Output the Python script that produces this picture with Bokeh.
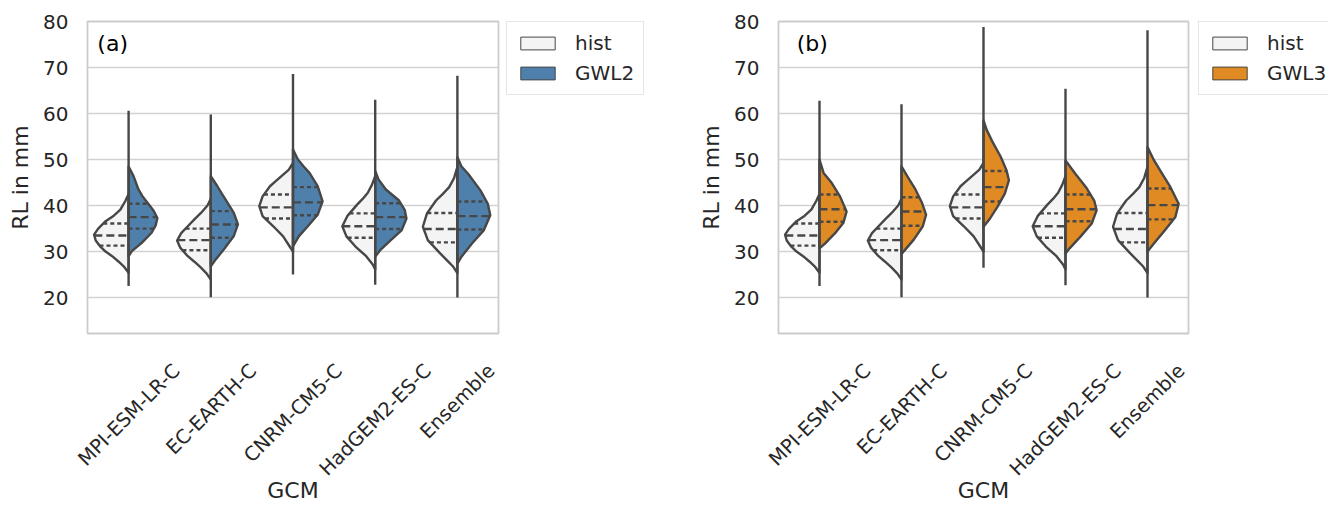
import math
import numpy as np
from bokeh.plotting import figure
from bokeh.layouts import row
from bokeh.models import Range1d, FixedTicker, Label, Legend, LegendItem
from bokeh.embed import file_html
from bokeh.resources import INLINE

# ---------------- data ----------------
gcms = ["MPI-ESM-LR-C", "EC-EARTH-C", "CNRM-CM5-C", "HadGEM2-ES-C", "Ensemble"]
y_ticks = [20, 30, 40, 50, 60, 70, 80]

# violin outlines: RL levels (mm) and kde half-width (category units)
hist_MPI_lvl = [42.5, 41.0, 39.1, 37.8, 36.6, 35.0, 33.7, 32.4, 31.2, 30.0, 29.0, 27.8, 26.8, 25.4]
hist_MPI_kde = [0.0, 0.04, 0.10, 0.18, 0.28, 0.37, 0.42, 0.40, 0.35, 0.28, 0.20, 0.12, 0.06, 0.0]
hist_EC_lvl = [41.5, 40.0, 38.4, 37.0, 35.5, 34.0, 32.4, 30.8, 29.0, 27.8, 26.5, 25.2, 23.9]
hist_EC_kde = [0.0, 0.04, 0.12, 0.20, 0.28, 0.36, 0.41, 0.37, 0.28, 0.20, 0.12, 0.05, 0.0]
hist_CNRM_lvl = [49.3, 47.8, 46.4, 45.3, 44.2, 42.0, 39.9, 37.7, 35.5, 33.3, 31.1, 30.0]
hist_CNRM_kde = [0.0, 0.05, 0.14, 0.21, 0.28, 0.37, 0.41, 0.37, 0.24, 0.12, 0.04, 0.0]
hist_Had_lvl = [46.4, 44.5, 42.8, 41.5, 40.2, 37.7, 35.5, 33.3, 31.1, 29.0, 27.2, 26.1]
hist_Had_kde = [0.0, 0.04, 0.09, 0.15, 0.22, 0.34, 0.40, 0.35, 0.24, 0.11, 0.03, 0.0]
hist_Ens_lvl = [48.4, 46.0, 44.0, 42.5, 41.1, 38.3, 35.4, 32.5, 29.6, 28.0, 26.7, 25.3]
hist_Ens_kde = [0.0, 0.04, 0.10, 0.18, 0.26, 0.37, 0.42, 0.36, 0.21, 0.12, 0.05, 0.0]

gwl2_MPI_lvl = [48.5, 46.4, 43.5, 42.0, 40.6, 39.0, 37.3, 35.7, 34.1, 31.9, 30.1, 29.0]
gwl2_MPI_kde = [0.0, 0.06, 0.12, 0.17, 0.23, 0.30, 0.35, 0.33, 0.28, 0.16, 0.04, 0.0]
gwl2_EC_lvl = [46.4, 44.2, 42.7, 41.3, 38.4, 35.9, 33.4, 30.5, 28.3, 26.8]
gwl2_EC_kde = [0.0, 0.08, 0.13, 0.18, 0.28, 0.33, 0.28, 0.16, 0.06, 0.0]
gwl2_CNRM_lvl = [52.2, 50.0, 48.5, 47.1, 44.2, 40.9, 38.0, 35.5, 33.3, 31.1]
gwl2_CNRM_kde = [0.0, 0.06, 0.13, 0.20, 0.30, 0.36, 0.30, 0.18, 0.07, 0.0]
gwl2_Had_lvl = [47.5, 45.7, 43.5, 41.1, 39.0, 37.2, 34.6, 32.5, 30.3, 28.9]
gwl2_Had_kde = [0.0, 0.04, 0.13, 0.29, 0.36, 0.38, 0.32, 0.19, 0.06, 0.0]
gwl2_Ens_lvl = [50.5, 48.5, 46.9, 43.3, 40.4, 37.9, 34.6, 31.8, 28.9, 27.4]
gwl2_Ens_kde = [0.0, 0.05, 0.13, 0.28, 0.37, 0.40, 0.32, 0.18, 0.05, 0.0]

gwl3_MPI_lvl = [50.0, 47.1, 44.9, 42.0, 38.7, 36.2, 34.0, 31.8, 30.7]
gwl3_MPI_kde = [0.0, 0.05, 0.15, 0.25, 0.33, 0.29, 0.19, 0.07, 0.0]
gwl3_EC_lvl = [48.5, 46.4, 43.5, 40.6, 38.0, 35.5, 32.6, 30.1, 29.4]
gwl3_EC_kde = [0.0, 0.07, 0.17, 0.25, 0.30, 0.26, 0.15, 0.03, 0.0]
gwl3_CNRM_lvl = [58.5, 56.4, 53.5, 50.6, 47.7, 45.5, 42.6, 39.7, 37.2, 35.4]
gwl3_CNRM_kde = [0.0, 0.04, 0.12, 0.21, 0.28, 0.31, 0.26, 0.17, 0.08, 0.0]
gwl3_Had_lvl = [49.8, 46.9, 44.0, 41.1, 39.0, 36.1, 33.2, 30.7, 29.6]
gwl3_Had_kde = [0.0, 0.12, 0.25, 0.35, 0.38, 0.32, 0.18, 0.05, 0.0]
gwl3_Ens_lvl = [52.7, 49.8, 46.9, 44.0, 40.4, 37.5, 34.6, 31.8, 30.0]
gwl3_Ens_kde = [0.0, 0.08, 0.18, 0.28, 0.38, 0.34, 0.21, 0.08, 0.0]

# quartiles
hist_q1 = [31.3, 30.3, 37.2, 33.0, 32.0]
hist_med = [33.5, 32.5, 39.6, 35.5, 34.9]
hist_q3 = [36.1, 35.0, 42.4, 38.3, 38.4]
gwl2_q1 = [35.0, 33.0, 37.9, 34.9, 34.8]
gwl2_med = [37.5, 35.9, 40.7, 37.5, 37.7]
gwl2_q3 = [40.4, 38.8, 44.0, 40.5, 40.9]
gwl3_q1 = [36.5, 35.6, 40.9, 36.6, 37.0]
gwl3_med = [39.2, 38.7, 44.0, 39.2, 40.1]
gwl3_q3 = [42.4, 41.8, 47.5, 42.4, 43.7]

# extreme values (thin tails) per violin
gwl2_panel_min = [22.5, 20.1, 25.0, 22.8, 20.0]
gwl2_panel_max = [60.6, 59.8, 68.6, 63.0, 68.2]
gwl3_panel_min = [22.5, 20.1, 26.5, 22.7, 20.0]
gwl3_panel_max = [62.8, 62.0, 78.8, 65.4, 78.1]

# ---------------- styling ----------------
HIST_C = "#f4f4f4"
GWL2_C = "#4f80ac"
GWL3_C = "#df8a22"
LINE_C = "#474747"
TEXT_C = "#262626"
GRID_C = "#d2d2d2"
SPINE_C = "#cccccc"
FONT = "DejaVu Sans"
Y0, Y1 = 12.2, 80.0
X0, X1 = -0.5, 4.5
CAT_PX = 82.0
TICK_PX = 19.5
LW = 2.4
H = 506

hist_lvls = [hist_MPI_lvl, hist_EC_lvl, hist_CNRM_lvl, hist_Had_lvl, hist_Ens_lvl]
hist_kdes = [hist_MPI_kde, hist_EC_kde, hist_CNRM_kde, hist_Had_kde, hist_Ens_kde]
gwl2_lvls = [gwl2_MPI_lvl, gwl2_EC_lvl, gwl2_CNRM_lvl, gwl2_Had_lvl, gwl2_Ens_lvl]
gwl2_kdes = [gwl2_MPI_kde, gwl2_EC_kde, gwl2_CNRM_kde, gwl2_Had_kde, gwl2_Ens_kde]
gwl3_lvls = [gwl3_MPI_lvl, gwl3_EC_lvl, gwl3_CNRM_lvl, gwl3_Had_lvl, gwl3_Ens_lvl]
gwl3_kdes = [gwl3_MPI_kde, gwl3_EC_kde, gwl3_CNRM_kde, gwl3_Had_kde, gwl3_Ens_kde]

# DejaVu Sans advance widths (em) used to centre the rotated labels like matplotlib
EM = {"M": .863, "P": .603, "I": .295, "-": .361, "E": .632, "S": .635, "L": .557,
      "R": .695, "C": .698, "A": .684, "T": .611, "H": .752, "N": .748, "5": .636,
      "2": .636, "a": .613, "d": .635, "G": .775, "n": .634, "s": .521, "e": .615,
      "m": .974, "b": .635, "l": .278}


def half_width_at(lvl, kde, q):
    return float(np.interp(q, np.array(lvl)[::-1], np.array(kde)[::-1]))


def halves(lvls, kdes, side):
    xs = [[i + side * w for w in kdes[i]] for i in range(len(gcms))]
    ys = [list(v) for v in lvls]
    return xs, ys


def make_panel(tag, tag_x, scn_color, lvls, kdes, q1, med, q3,
               tmin, tmax, width, border_left, border_right):
    p = figure(width=width, height=H,
               x_range=Range1d(X0, X1), y_range=Range1d(Y0, Y1),
               output_backend="svg", toolbar_location=None,
               min_border_left=border_left, min_border_right=border_right,
               min_border_top=21, min_border_bottom=172,
               background_fill_color="white", border_fill_color="white")
    p.outline_line_color = SPINE_C
    p.outline_line_width = 1.8

    p.xgrid.visible = False
    p.ygrid.ticker = FixedTicker(ticks=y_ticks)
    p.ygrid.grid_line_color = GRID_C
    p.ygrid.grid_line_width = 1.6

    p.yaxis.ticker = FixedTicker(ticks=y_ticks)
    p.yaxis.axis_line_color = None
    p.yaxis.major_tick_line_color = None
    p.yaxis.minor_tick_line_color = None
    p.yaxis.major_tick_out = 0
    p.yaxis.major_tick_in = 0
    p.yaxis.major_label_standoff = 19
    p.yaxis.major_label_text_font = FONT
    p.yaxis.major_label_text_font_size = "20px"
    p.yaxis.major_label_text_color = TEXT_C
    p.yaxis.axis_label = "RL in mm"
    p.yaxis.axis_label_text_font = FONT
    p.yaxis.axis_label_text_font_size = "22px"
    p.yaxis.axis_label_text_font_style = "normal"
    p.yaxis.axis_label_text_color = TEXT_C
    p.yaxis.axis_label_standoff = 7

    # category labels: rotated 45deg, right end anchored; ticks shifted so that each
    # rotated label is centred under its category (matplotlib style)
    tick_pos, overrides = [], {}
    for i, g in enumerate(gcms):
        L = sum(EM.get(c, 0.6) for c in g) * TICK_PX
        t = round(i + L / (2 * math.sqrt(2)) / CAT_PX, 4)
        tick_pos.append(t)
        overrides[t] = g
    p.xaxis.ticker = FixedTicker(ticks=tick_pos)
    p.xaxis.major_label_overrides = overrides
    p.xaxis.major_label_orientation = math.pi / 4
    p.xaxis.axis_line_color = None
    p.xaxis.major_tick_line_color = None
    p.xaxis.minor_tick_line_color = None
    p.xaxis.major_tick_out = 0
    p.xaxis.major_tick_in = 0
    p.xaxis.major_label_standoff = 34
    p.xaxis.major_label_text_font = FONT
    p.xaxis.major_label_text_font_size = f"{TICK_PX}px"
    p.xaxis.major_label_text_color = TEXT_C
    p.xaxis.axis_label = "GCM"
    p.xaxis.axis_label_text_font = FONT
    p.xaxis.axis_label_text_font_size = "22px"
    p.xaxis.axis_label_text_font_style = "normal"
    p.xaxis.axis_label_text_color = TEXT_C
    p.xaxis.axis_label_standoff = -13

    hx, hy = halves(hist_lvls, hist_kdes, -1)
    sx, sy = halves(lvls, kdes, +1)
    p.patches(xs=hx, ys=hy, fill_color=HIST_C, line_color=LINE_C, line_width=LW,
              line_join="round")
    p.patches(xs=sx, ys=sy, fill_color=scn_color, line_color=LINE_C, line_width=LW,
              line_join="round")
    idx = list(range(len(gcms)))
    p.segment(x0=idx, y0=tmin, x1=idx, y1=tmax, line_color=LINE_C, line_width=LW)

    # quartile lines
    for hq, sq, dash in ((hist_q1, q1, "4 3"), (hist_q3, q3, "4 3"), (hist_med, med, "8 4")):
        x0, x1, yy = [], [], []
        for i in range(len(gcms)):
            wl = half_width_at(hist_lvls[i], hist_kdes[i], hq[i])
            x0.append(i - wl); x1.append(i); yy.append(hq[i])
            wr = half_width_at(lvls[i], kdes[i], sq[i])
            x0.append(i); x1.append(i + wr); yy.append(sq[i])
        p.segment(x0=x0, y0=yy, x1=x1, y1=yy, line_color=LINE_C, line_width=LW,
                  line_dash=dash)

    p.add_layout(Label(x=tag_x, y=75.3, text=tag, text_font=FONT, text_font_size="22px",
                       text_color="black", text_baseline="middle", text_align="left"))
    return p


def make_legend_fig(scn_name, scn_color, lvls, kdes, width, border_left):
    # a small companion figure holding the legend next to the axes box
    lf = figure(width=width, height=H, x_range=Range1d(0, 1), y_range=Range1d(0, 1),
                x_axis_location=None, y_axis_location=None,
                output_backend="svg", toolbar_location=None,
                min_border_left=border_left, min_border_right=0,
                min_border_top=21, min_border_bottom=0,
                background_fill_color="white", border_fill_color="white")
    lf.outline_line_color = None
    lf.grid.visible = False
    hx, hy = halves(hist_lvls, hist_kdes, -1)
    sx, sy = halves(lvls, kdes, +1)
    # legend glyph sources (the violin halves; they fall outside this figure's ranges)
    r_h = lf.patches(xs=hx, ys=hy, fill_color=HIST_C, line_color=LINE_C, line_width=1)
    r_s = lf.patches(xs=sx, ys=sy, fill_color=scn_color, line_color=LINE_C, line_width=1)
    leg = Legend(items=[LegendItem(label="hist", renderers=[r_h], index=0),
                        LegendItem(label=scn_name, renderers=[r_s], index=0)],
                 location="top_left")
    leg.label_text_font = FONT
    leg.label_text_font_size = "20px"
    leg.label_text_color = TEXT_C
    leg.glyph_width = 43
    leg.glyph_height = 16
    leg.label_height = 24
    leg.label_standoff = 16
    leg.padding = 9
    leg.spacing = 6
    leg.margin = 0
    leg.border_line_color = SPINE_C
    leg.border_line_width = 1.2
    leg.background_fill_color = "white"
    lf.add_layout(leg, "center")
    return lf


p1 = make_panel("(a)", -0.38, GWL2_C, gwl2_lvls, gwl2_kdes, gwl2_q1, gwl2_med, gwl2_q3,
                gwl2_panel_min, gwl2_panel_max, 505, 87, 7)
l1 = make_legend_fig("GWL2", GWL2_C, gwl2_lvls, gwl2_kdes, 155, 1)
p2 = make_panel("(b)", -0.277, GWL3_C, gwl3_lvls, gwl3_kdes, gwl3_q1, gwl3_med, gwl3_q3,
                gwl3_panel_min, gwl3_panel_max, 534, 118, 6)
l2 = make_legend_fig("GWL3", GWL3_C, gwl3_lvls, gwl3_kdes, 134, 4)

layout = row(p1, l1, p2, l2)
open("out.html", "w").write(file_html(layout, INLINE))
